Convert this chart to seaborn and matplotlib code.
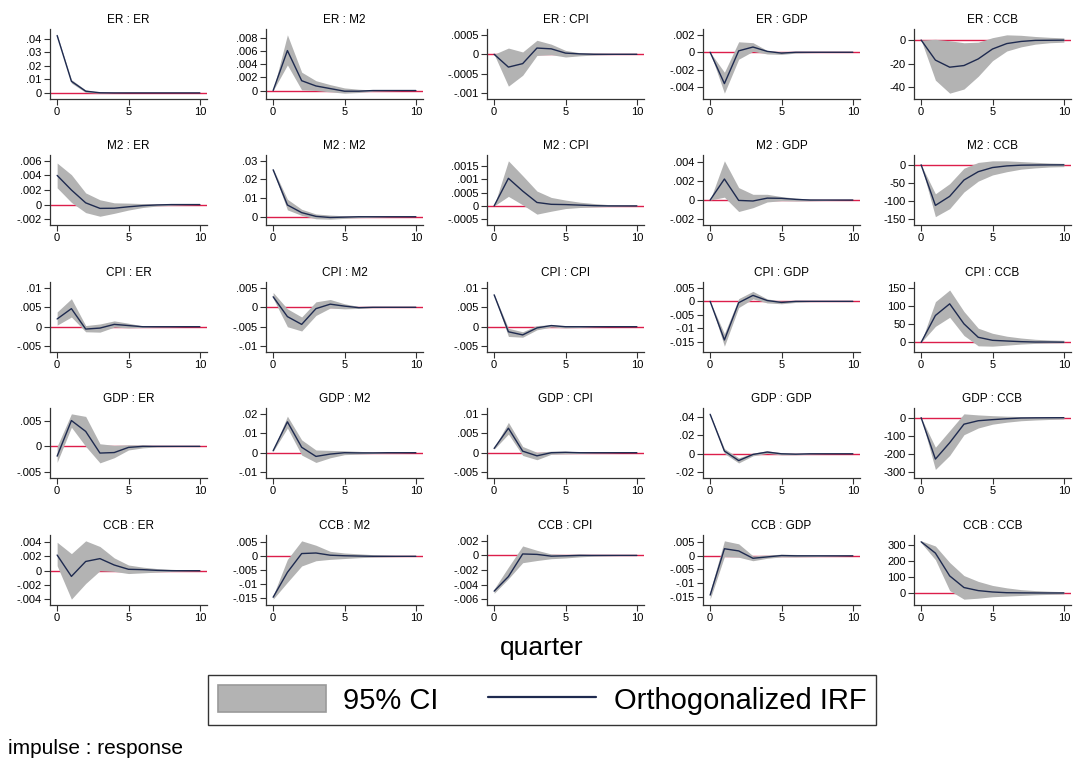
import numpy as np
import pandas as pd
import matplotlib
matplotlib.use("Agg")
import matplotlib.pyplot as plt
from matplotlib.patches import Patch
from matplotlib.lines import Line2D
from matplotlib.ticker import FuncFormatter
import seaborn as sns

steps = list(range(11))
variables = ["ER", "M2", "CPI", "GDP", "CCB"]

# ---- impulse ER ----
irf_ER_ER = [0.0426, 0.0086, 0.0013, 0.0001, 0, 0, 0, 0, 0, 0, 0]
lo_ER_ER = [0.0421, 0.0073, 0.0003, -0.0002, -0.0001, 0, 0, 0, 0, 0, 0]
hi_ER_ER = [0.0431, 0.0099, 0.0021, 0.0004, 0.0001, 0, 0, 0, 0, 0, 0]

irf_ER_M2 = [0, 0.0061, 0.0015, 0.0007, 0.0003, -0.0001, -0.0001, 0, 0, 0, 0]
lo_ER_M2 = [0, 0.0039, 0.0001, 0.0, -0.0002, -0.0004, -0.0003, -0.0001, -0.00005, 0, 0]
hi_ER_M2 = [0, 0.0085, 0.0028, 0.0015, 0.0009, 0.0004, 0.0002, 0.0001, 0.00005, 0, 0]

irf_ER_CPI = [0, -0.00033, -0.00024, 0.00016, 0.00014, 0.00003, 0.00001, 0, 0, 0, 0]
lo_ER_CPI = [0, -0.00082, -0.00054, -0.00003, -0.00001, -0.00007, -0.00004, -0.00002, -0.00001, 0, 0]
hi_ER_CPI = [0, 0.00016, 0.00006, 0.00036, 0.00026, 0.0001, 0.00004, 0.00003, 0.00002, 0.00001, 0]

irf_ER_GDP = [0, -0.0036, 0.00016, 0.0006, 0.0001, -0.0001, 0, 0, 0, 0, 0]
lo_ER_GDP = [0, -0.0047, -0.0008, 0.0001, -0.0002, -0.00025, -0.0001, -0.00005, -0.00002, 0, 0]
hi_ER_GDP = [0, -0.0023, 0.0012, 0.0011, 0.0002, 0.00005, 0.00005, 0.00003, 0.00002, 0.00001, 0]

irf_ER_CCB = [0, -17, -23, -21.6, -16, -7.6, -3, -1.2, -0.3, -0.2, -0.1]
lo_ER_CCB = [0, -34, -45, -41.5, -30.7, -17.5, -9.3, -5.8, -3.5, -2.3, -1.8]
hi_ER_CCB = [0, 0.6, -0.6, -2.3, -1.8, 2, 4.4, 4, 3, 2.3, 1.8]

# ---- impulse M2 ----
irf_M2_ER = [0.004, 0.002, 0.00024, -0.00052, -0.0005, -0.0003, -0.00014, -0.00005, 0, 0, 0]
lo_M2_ER = [0.0023, 0.0003, -0.0011, -0.0016, -0.0012, -0.00075, -0.0004, -0.0002, -0.0001, -0.00004, 0]
hi_M2_ER = [0.0057, 0.0041, 0.0016, 0.00066, 0.00024, 0.0002, 0.00014, 0.0001, 0.00005, 0.00002, 0]

irf_M2_M2 = [0.0252, 0.0063, 0.0022, 0.0002, -0.0004, -0.0002, 0, 0, 0, 0, 0]
lo_M2_M2 = [0.0246, 0.0037, 0.0007, -0.0011, -0.0013, -0.0009, -0.0005, -0.0003, -0.0001, -0.00005, 0]
hi_M2_M2 = [0.0258, 0.0094, 0.004, 0.0015, 0.0009, 0.0005, 0.0003, 0.0002, 0.0001, 0.00005, 0]

irf_M2_CPI = [0, 0.00104, 0.00056, 0.00013, 0.00006, 0.00005, 0.00003, 0.00001, 0, 0, 0]
lo_M2_CPI = [0, 0.00036, 0.00004, -0.00031, -0.0002, -0.0001, -0.00006, -0.00004, -0.00002, -0.00001, 0]
hi_M2_CPI = [0, 0.0017, 0.00114, 0.00056, 0.00032, 0.00022, 0.00014, 0.00009, 0.00005, 0.00003, 0.00002]

irf_M2_GDP = [0, 0.0022, -0.00004, -0.0001, 0.0002, 0.00018, 0.00007, 0, 0, 0, 0]
lo_M2_GDP = [0, 0.0003, -0.0012, -0.0008, -0.0002, -0.00007, -0.0001, -0.00008, -0.00005, -0.00002, 0]
hi_M2_GDP = [0, 0.0041, 0.0013, 0.0006, 0.0006, 0.00036, 0.0002, 0.0001, 0.00005, 0.00002, 0]

irf_M2_CCB = [0, -112, -87, -42, -19, -7.5, -3, -1, -0.5, -0.2, -0.1]
lo_M2_CCB = [0, -143, -121, -75, -45, -28, -19, -12, -8.5, -6, -5]
hi_M2_CCB = [0, -80, -52, -9.4, 6.6, 11, 11, 9, 7, 5, 4]

# ---- impulse CPI ----
irf_CPI_ER = [0.002, 0.00465, -0.0006, -0.00035, 0.0006, 0.0003, 0, 0, 0, 0, 0]
lo_CPI_ER = [0.0004, 0.0025, -0.0013, -0.0014, -0.0001, -0.0003, -0.0002, -0.0001, -0.00005, 0, 0]
hi_CPI_ER = [0.0038, 0.0072, 0.0003, 0.0007, 0.0015, 0.0009, 0.0002, 0.0001, 0.00005, 0, 0]

irf_CPI_M2 = [0.0027, -0.0024, -0.0044, -0.00035, 0.0008, 0.0003, -0.0001, 0, 0, 0, 0]
lo_CPI_M2 = [0.0023, -0.005, -0.0061, -0.0021, -0.0002, -0.0004, -0.0003, -0.0001, -0.00005, 0, 0]
hi_CPI_M2 = [0.0038, -0.0004, -0.0025, 0.0014, 0.002, 0.0009, 0.0002, 0.0001, 0.00005, 0, 0]

irf_CPI_CPI = [0.0082, -0.0013, -0.0021, -0.0003, 0.0003, 0, 0, 0, 0, 0, 0]
lo_CPI_CPI = [0.008, -0.0025, -0.0027, -0.0008, -0.0001, -0.0003, -0.0002, -0.00005, 0, 0, 0]
hi_CPI_CPI = [0.0084, -0.0004, -0.0013, 0.0003, 0.0005, 0.0002, 0.0001, 0.00005, 0, 0, 0]

irf_CPI_GDP = [0, -0.0143, -0.0005, 0.0022, 0.0003, -0.0004, 0, 0, 0, 0, 0]
lo_CPI_GDP = [0, -0.0166, -0.0023, 0.0009, -0.0006, -0.0009, -0.0004, -0.0001, -0.00005, 0, 0]
hi_CPI_GDP = [0, -0.012, 0.001, 0.0037, 0.0009, 0.0001, 0.0001, 0.00005, 0, 0, 0]

irf_CPI_CCB = [0, 74, 106, 51, 14, 5.7, 3.8, 2, 1, 1, 0.5]
lo_CPI_CCB = [0, 44, 69, 19, -9.5, -10.4, -7.6, -4.7, -2.8, -1.9, -1]
hi_CPI_CCB = [0, 112, 144, 85, 39, 25, 17, 12, 8.5, 6.6, 5.7]

# ---- impulse GDP ----
irf_GDP_ER = [-0.0019, 0.005, 0.0029, -0.0013, -0.0012, -0.0002, 0, 0, 0, 0, 0]
lo_GDP_ER = [-0.0031, 0.0037, 0, -0.0032, -0.0022, -0.0007, -0.0003, -0.0001, -0.00005, 0, 0]
hi_GDP_ER = [0, 0.0063, 0.0058, 0.0005, 0.0002, 0.0003, 0.0003, 0.0001, 0.00005, 0, 0]

irf_GDP_M2 = [0.001, 0.0159, 0.0028, -0.0019, -0.0007, 0, -0.0001, -0.0001, 0, 0, 0]
lo_GDP_M2 = [0.0007, 0.0127, -0.0012, -0.005, -0.0026, -0.001, -0.0007, -0.0004, -0.0002, -0.0001, 0]
hi_GDP_M2 = [0.0013, 0.0188, 0.0066, 0.0014, 0.0012, 0.001, 0.0007, 0.0004, 0.0002, 0.0001, 0]

irf_GDP_CPI = [0.0011, 0.0063, 0.0004, -0.0008, 0, 0.0001, 0, 0, 0, 0, 0]
lo_GDP_CPI = [0.0009, 0.0048, -0.0007, -0.0018, -0.0004, -0.0003, -0.0002, -0.0001, -0.00005, 0, 0]
hi_GDP_CPI = [0.0013, 0.0078, 0.0016, 0.0001, 0.0004, 0.0004, 0.0002, 0.0001, 0.00005, 0, 0]

irf_GDP_GDP = [0.043, 0.003, -0.0074, -0.0007, 0.0019, 0, -0.0004, 0, 0, 0, 0]
lo_GDP_GDP = [0.0425, 0.0004, -0.01, -0.0022, 0.0004, -0.0011, -0.0011, -0.0005, -0.0002, -0.0001, 0]
hi_GDP_GDP = [0.0435, 0.0056, -0.0044, 0.0007, 0.0033, 0.0011, 0.0004, 0.0002, 0.0001, 0, 0]

irf_GDP_CCB = [0, -228, -138, -36, -17, -11, -6, -2, -1, -0.5, -0.3]
lo_GDP_CCB = [0, -285, -208, -94, -57, -36, -25, -17, -13, -10, -8]
hi_GDP_CCB = [0, -163, -71, 21, 15, 11, 8, 6, 4, 3, 2]

# ---- impulse CCB ----
irf_CCB_ER = [0.0022, -0.0008, 0.0013, 0.0017, 0.0008, 0.0002, 0.00015, 0.00005, 0, 0, 0]
lo_CCB_ER = [0.0007, -0.004, -0.0018, 0, -0.0001, -0.0004, -0.0003, -0.0002, -0.0001, -0.00005, 0]
hi_CCB_ER = [0.004, 0.0024, 0.0042, 0.0034, 0.0018, 0.0008, 0.0005, 0.0003, 0.0002, 0.0001, 0.00005]

irf_CCB_M2 = [-0.0148, -0.0058, 0.001, 0.0012, 0.0004, 0.0002, 0.0001, 0, 0, 0, 0]
lo_CCB_M2 = [-0.0155, -0.0094, -0.0035, -0.0016, -0.0011, -0.0008, -0.0005, -0.0003, -0.0002, -0.0001, 0]
hi_CCB_M2 = [-0.0142, -0.0011, 0.0056, 0.004, 0.0018, 0.0012, 0.0009, 0.0006, 0.0004, 0.0002, 0.0001]

irf_CCB_CPI = [-0.0049, -0.0029, 0.0002, 0.00014, -0.0001, -0.00005, 0, 0, 0, 0, 0]
lo_CCB_CPI = [-0.0052, -0.0032, -0.001, -0.0007, -0.00045, -0.00035, -0.0002, -0.0001, -0.00005, 0, 0]
hi_CCB_CPI = [-0.0046, -0.0016, 0.0013, 0.0007, 0.0002, 0.00014, 0.0002, 0.0001, 0.00005, 0, 0]

irf_CCB_GDP = [-0.0144, 0.0026, 0.0018, -0.0009, -0.0004, 0.0001, 0, 0, 0, 0, 0]
lo_CCB_GDP = [-0.0159, -0.0003, -0.0005, -0.0018, -0.0009, -0.0004, -0.0004, -0.0003, -0.0002, -0.0001, 0]
hi_CCB_GDP = [-0.013, 0.0055, 0.0044, 0, 0.0003, 0.0006, 0.0005, 0.0003, 0.0002, 0.0001, 0]

irf_CCB_CCB = [317, 247, 106, 34, 15, 6.4, 2, 1, 0.5, 0.3, 0.2]
lo_CCB_CCB = [311, 206, 15, -38, -32, -23, -19, -15, -11, -8.5, -6.4]
hi_CCB_CCB = [323, 291, 189, 108, 72, 47, 32, 21, 15, 11, 8.5]

# y tick values per panel (impulse : response)
yticks = {
    ("ER", "ER"): [0, .01, .02, .03, .04],
    ("ER", "M2"): [0, .002, .004, .006, .008],
    ("ER", "CPI"): [-.001, -.0005, 0, .0005],
    ("ER", "GDP"): [-.004, -.002, 0, .002],
    ("ER", "CCB"): [-40, -20, 0],
    ("M2", "ER"): [-.002, 0, .002, .004, .006],
    ("M2", "M2"): [0, .01, .02, .03],
    ("M2", "CPI"): [-.0005, 0, .0005, .001, .0015],
    ("M2", "GDP"): [-.002, 0, .002, .004],
    ("M2", "CCB"): [-150, -100, -50, 0],
    ("CPI", "ER"): [-.005, 0, .005, .01],
    ("CPI", "M2"): [-.01, -.005, 0, .005],
    ("CPI", "CPI"): [-.005, 0, .005, .01],
    ("CPI", "GDP"): [-.015, -.01, -.005, 0, .005],
    ("CPI", "CCB"): [0, 50, 100, 150],
    ("GDP", "ER"): [-.005, 0, .005],
    ("GDP", "M2"): [-.01, 0, .01, .02],
    ("GDP", "CPI"): [-.005, 0, .005, .01],
    ("GDP", "GDP"): [-.02, 0, .02, .04],
    ("GDP", "CCB"): [-300, -200, -100, 0],
    ("CCB", "ER"): [-.004, -.002, 0, .002, .004],
    ("CCB", "M2"): [-.015, -.01, -.005, 0, .005],
    ("CCB", "CPI"): [-.006, -.004, -.002, 0, .002],
    ("CCB", "GDP"): [-.015, -.01, -.005, 0, .005],
    ("CCB", "CCB"): [0, 100, 200, 300],
}

# ---- build long table ----
g = globals()
rows = []
for imp in variables:
    for resp in variables:
        irf = g[f"irf_{imp}_{resp}"]
        lo = g[f"lo_{imp}_{resp}"]
        hi = g[f"hi_{imp}_{resp}"]
        for s, a, b, c in zip(steps, irf, lo, hi):
            rows.append(dict(impulse=imp, response=resp, step=s, irf=a, lo=b, hi=c))
df = pd.DataFrame(rows)

sns.set_style("ticks")
plt.rcParams["font.family"] = ["Liberation Sans", "DejaVu Sans"]
plt.rcParams["text.color"] = "black"
plt.rcParams["axes.labelcolor"] = "black"
plt.rcParams["xtick.color"] = "#333333"
plt.rcParams["ytick.color"] = "#333333"

W, H = 1073, 775
fig = plt.figure(figsize=(W / 100, H / 100), dpi=100)
fig.patch.set_facecolor("white")

col_left = [50, 266, 487, 703, 914]
row_top = [29, 155, 282, 408, 535]
ax_w, ax_h = 157, 70

LINE_C = "#1e2a4f"
CI_C = "#b3b3b3"
ZERO_C = "#dc1e4b"


def stata_fmt(v, pos=None):
    if abs(v) < 1e-12:
        return "0"
    s = f"{v:g}"
    if s.startswith("0."):
        s = s[1:]
    elif s.startswith("-0."):
        s = "-" + s[2:]
    return s


for i, imp in enumerate(variables):
    for j, resp in enumerate(variables):
        ax = fig.add_axes([col_left[j] / W, 1 - (row_top[i] + ax_h) / H, ax_w / W, ax_h / H])
        sub = df[(df.impulse == imp) & (df.response == resp)]
        ax.axhline(0, color=ZERO_C, lw=1.0, zorder=1)
        ax.fill_between(sub["step"], sub["lo"], sub["hi"], color=CI_C, lw=0, zorder=2)
        sns.lineplot(data=sub, x="step", y="irf", ax=ax, color=LINE_C, lw=1.0,
                     zorder=3, legend=False, estimator=None)
        ax.set_xlabel("")
        ax.set_ylabel("")
        ax.set_xlim(-0.5, 10.5)
        ax.set_xticks([0, 5, 10])
        yt = yticks[(imp, resp)]
        ax.set_yticks(yt)
        dmin = min(sub["lo"].min(), sub["irf"].min(), min(yt))
        dmax = max(sub["hi"].max(), sub["irf"].max(), max(yt))
        pad = 0.1 * (dmax - dmin)
        ax.set_ylim(dmin - pad, dmax + pad)
        ax.yaxis.set_major_formatter(FuncFormatter(stata_fmt))
        for sp in ["top", "right"]:
            ax.spines[sp].set_visible(False)
        for sp in ["left", "bottom"]:
            ax.spines[sp].set_color("#333333")
            ax.spines[sp].set_linewidth(0.9)
        ax.tick_params(axis="both", direction="out", length=4, width=0.8,
                       color="#333333", labelcolor="black", labelsize=8, pad=2)
        ax.set_title(f"{imp} : {resp}", fontsize=8.5, pad=4, color="black")
        ax.set_facecolor("white")

fig.text(542 / W, 1 - 648 / H, "quarter", ha="center", va="center", fontsize=19)

handles = [Patch(facecolor=CI_C, edgecolor="#9a9a9a", lw=1.2),
           Line2D([], [], color=LINE_C, lw=1.6)]
leg = fig.legend(handles, ["95% CI", "Orthogonalized IRF"], loc="center",
                 bbox_to_anchor=(542 / W, 1 - 700 / H), ncol=2, fontsize=21,
                 frameon=True, fancybox=False, edgecolor="black",
                 handlelength=3.7, handleheight=1.0, handletextpad=0.6,
                 columnspacing=1.7, borderpad=0.35)
leg.get_frame().set_linewidth(1.0)

fig.text(8 / W, 1 - 748 / H, "impulse : response", ha="left", va="center", fontsize=15)

fig.savefig("out.png", dpi=100, facecolor="white")
